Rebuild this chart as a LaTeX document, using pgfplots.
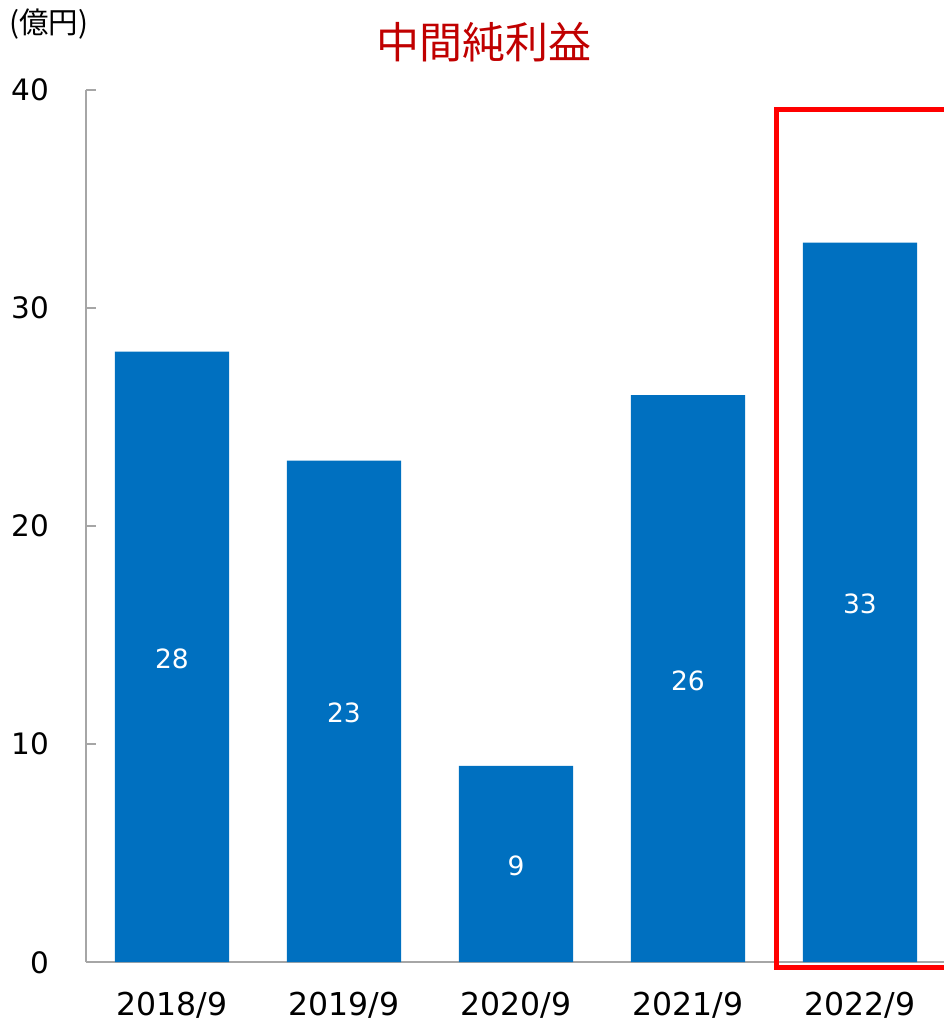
\documentclass[border=0pt]{standalone}
\usepackage{pgfplots}
\pgfplotsset{compat=1.18}
\usepackage{pgfplotstable}
\usepackage{fontspec}
\setmainfont{DejaVu Sans}
\newfontfamily\cjk{Noto Sans CJK JP}
\definecolor{barblue}{HTML}{0070C0}
\definecolor{titlered}{HTML}{C00000}
\definecolor{axgray}{HTML}{A6A6A6}
\pgfplotstableread{
x y
0 28
1 23
2 9
3 26
4 33
}\profit
\begin{document}
\begin{tikzpicture}
\path[use as bounding box] (0pt,0pt) rectangle (944pt,1023pt);
\begin{axis}[
  at={(86pt,61pt)}, anchor=south west,
  scale only axis, width=860pt, height=872pt,
  xmin=-0.5, xmax=4.5, ymin=0, ymax=40,
  separate axis lines,
  axis x line=bottom, axis y line=left,
  axis line style={-, draw=axgray, line width=1.3pt},
  ytick={0,10,20,30,40},
  xtick={0,1,2,3,4},
  xticklabels={2018/9,2019/9,2020/9,2021/9,2022/9},
  xtick style={draw=none},
  ytick style={draw=axgray, line width=1.3pt},
  tick align=inside,
  major tick length=10pt,
  /pgf/number format/assume math mode=true,
  xticklabel style={font=\fontsize{31.5}{34}\selectfont, anchor=north, inner sep=0pt, text height=23pt, text depth=0pt, yshift=-30pt},
  yticklabel style={font=\fontsize{29.5}{31}\selectfont, anchor=east, inner sep=0pt, text height=22pt, text depth=0pt, xshift=-37pt},
  clip=false,
]
\addplot[ybar, bar width=0.663, fill=barblue, draw=none] table[x=x,y=y] {\profit};
\addplot[draw=none, mark=none, nodes near coords, point meta=explicit,
  nodes near coords style={anchor=center, text=white, font=\fontsize{26.5}{28}\selectfont, inner sep=0pt, yshift=-2pt}]
  table[x=x, y expr=\thisrow{y}/2, meta=y] {\profit};
\draw[red, line width=5pt] (axis cs:4.7,39.1) -- (axis cs:3.5145,39.1) -- (axis cs:3.5145,-0.23) -- (axis cs:4.7,-0.23);
\end{axis}
\node[text=titlered, font=\cjk\fontsize{43}{45}\selectfont] at (484pt,981pt) {中間純利益};
\node[font=\cjk\fontsize{29.5}{30}\selectfont, anchor=west, inner sep=0pt] at (9pt,999pt) {(億円)};
\end{tikzpicture}
\end{document}
